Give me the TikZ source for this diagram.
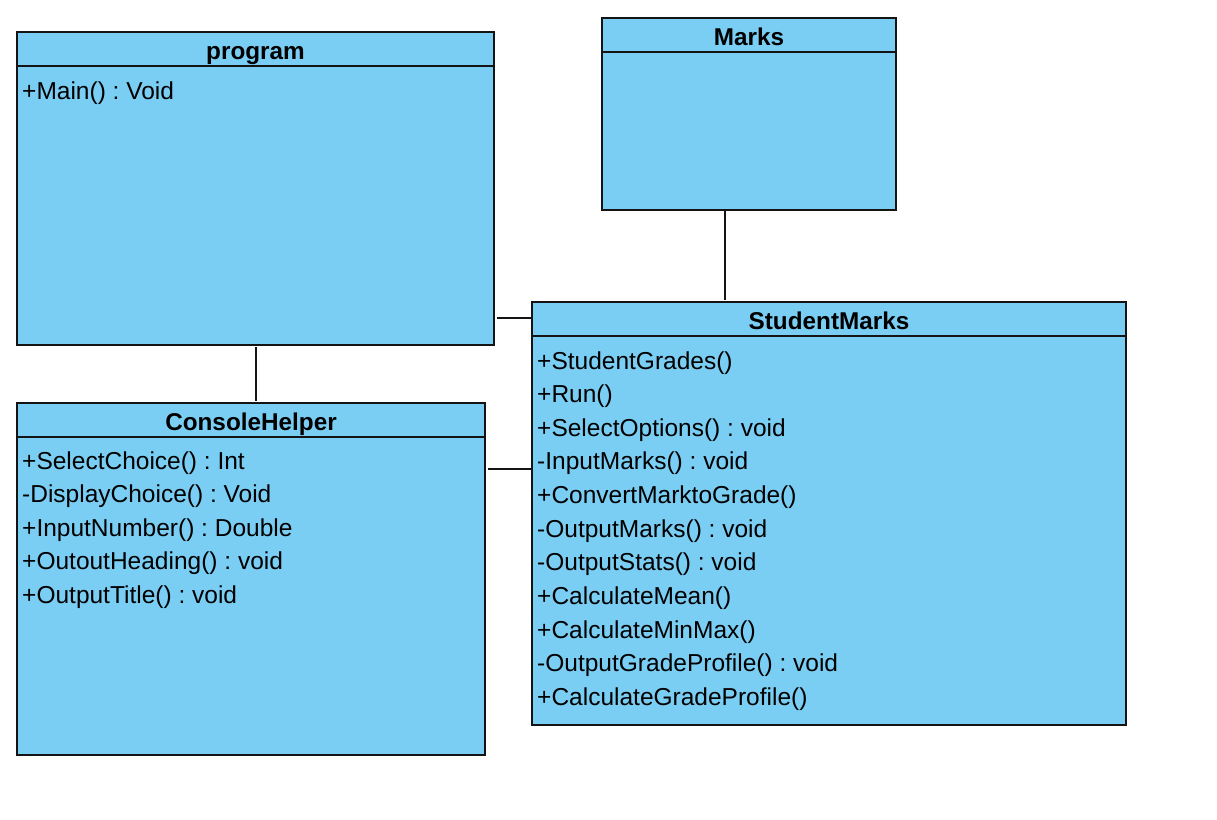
\documentclass[tikz,border=0pt]{standalone}
\usepackage{fontspec}
\setmainfont{Liberation Sans}
\frenchspacing
\definecolor{clsfill}{RGB}{122,206,244}
\definecolor{clsline}{RGB}{20,20,20}
\tikzset{
  cls/.style={draw=clsline, fill=clsfill, line width=1.8pt, anchor=north west, inner sep=0pt, outer sep=0pt},
  sep/.style={draw=clsline, line width=1.8pt},
  title/.style={inner sep=0pt, anchor=base, font=\fontsize{24.3}{28}\selectfont\bfseries},
  item/.style={inner sep=0pt, anchor=base west, font=\fontsize{24.5}{28}\selectfont},
  conn/.style={draw=clsline, line width=1.8pt}
}
\begin{document}
\begin{tikzpicture}[x=1pt,y=-1pt]
\useasboundingbox (0,0) rectangle (1217,819);
% classes
\node[cls, minimum width=477pt, minimum height=313pt] (program) at (17,32) {};
\node[cls, minimum width=294pt, minimum height=192pt] (marks) at (602,18) {};
\node[cls, minimum width=594pt, minimum height=423pt] (sm) at (532,302) {};
\node[cls, minimum width=468pt, minimum height=352pt] (ch) at (17,403) {};
% header separators
\draw[sep] (17,66) -- (494,66);
\draw[sep] (602,52) -- (896,52);
\draw[sep] (532,336) -- (1126,336);
\draw[sep] (17,437) -- (485,437);
% titles
\node[title] (tprogram) at (255.5,59.5) {program};
\node[title] (tmarks) at (749,45.5) {Marks};
\node[title] (tsm) at (829,329.5) {StudentMarks};
\node[title] (tch) at (251,430.5) {ConsoleHelper};
% members
\node[item] (p1) at (22,99) {+Main() : Void};
\foreach \t [count=\i from 0] in {+StudentGrades(), +Run(), +SelectOptions() : void, -InputMarks() : void, +ConvertMarktoGrade(), -OutputMarks() : void, -OutputStats() : void, +CalculateMean(), +CalculateMinMax(), -OutputGradeProfile() : void, +CalculateGradeProfile()}
  \node[item] (s\i) at (537,369+33.65*\i) {\t};
\foreach \t [count=\i from 0] in {+SelectChoice() : Int, -DisplayChoice() : Void, +InputNumber() : Double, +OutoutHeading() : void, +OutputTitle() : void}
  \node[item] (c\i) at (22,469+33.65*\i) {\t};
% connectors
\coordinate (y1) at (0,318);
\coordinate (y2) at (0,469);
\coordinate (x1) at (725,0);
\coordinate (x2) at (256,0);
\draw[conn] ([xshift=3pt]program.east |- y1) -- (sm.west |- y1);
\draw[conn] ([xshift=3pt]ch.east |- y2) -- (sm.west |- y2);
\draw[conn] (marks.south -| x1) -- ([yshift=2pt]sm.north -| x1);
\draw[conn] ([yshift=-2pt]program.south -| x2) -- ([yshift=2pt]ch.north -| x2);
\end{tikzpicture}
\end{document}
